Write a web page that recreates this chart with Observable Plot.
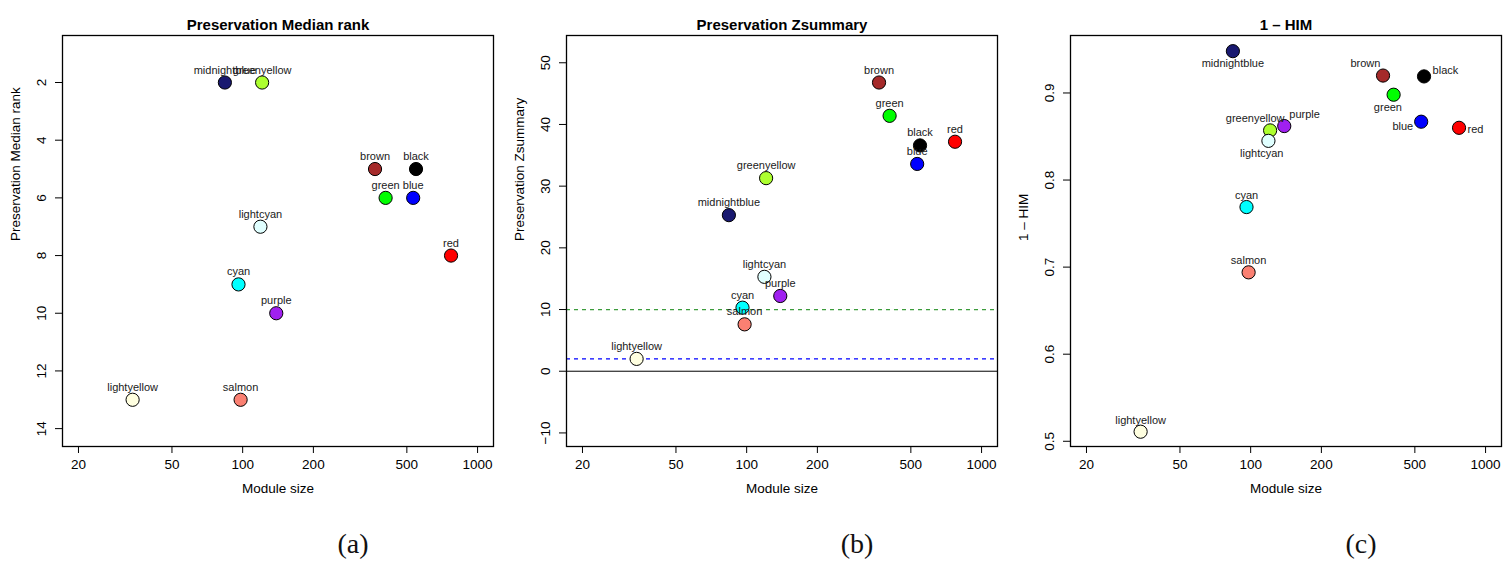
<!DOCTYPE html>
<html>
<head>
<meta charset="utf-8">
<script src="https://cdn.jsdelivr.net/npm/d3@7"></script>
<script src="https://cdn.jsdelivr.net/npm/@observablehq/plot@0.6"></script>
<style>
  html, body { margin: 0; padding: 0; background: #fff; }
  #wrap { display: flex; width: 1512px; height: 567px; }
  .panel { position: relative; width: 504px; height: 567px; }
  .panel svg { display: block; }
  .cap { position: absolute; left: 313px; width: 80px; top: 522px; text-align: center;
         font-family: "Liberation Serif", "DejaVu Serif", serif; font-size: 28px; line-height: 44px; color: #111; }
</style>
</head>
<body>
<div id="wrap"></div>
<script>
// ---- data ----
const modules = ["midnightblue","greenyellow","brown","black","green","blue","lightcyan","red","cyan","purple","lightyellow","salmon"];
const moduleColors = ["#191970","#ADFF2F","#A52A2A","#000000","#00FF00","#0000FF","#E0FFFF","#FF0000","#00FFFF","#A020F0","#FFFFE0","#FA8072"];
const moduleSize = [84, 121, 366, 547, 406, 532, 119, 771, 96, 139, 34, 98];
const medianRank = [2, 2, 5, 5, 6, 6, 7, 8, 9, 10, 13, 13];
const zsummary = [25.3, 31.3, 46.8, 36.6, 41.4, 33.6, 15.3, 37.2, 10.3, 12.2, 2.0, 7.6];
const oneMinusHIM = [0.948, 0.857, 0.920, 0.919, 0.898, 0.867, 0.845, 0.860, 0.769, 0.862, 0.511, 0.694];
const xTicks = [20, 50, 100, 200, 500, 1000];
const rankTicks = [2, 4, 6, 8, 10, 12, 14];
const zTicks = [-10, 0, 10, 20, 30, 40, 50];
const himTicks = [0.5, 0.6, 0.7, 0.8, 0.9];
const zThresholds = [0, 2, 10];

// label placement for panel (c) (relative offsets, layout only)
const himLabelOffset = {
  midnightblue: [0, 12.5], greenyellow: [-15, -11.7], brown: [-17.6, -11.7], black: [21.4, -6.4],
  green: [-5.7, 12.4], blue: [-18.4, 4.6], lightcyan: [-6.7, 12.3], red: [16.4, 2],
  cyan: [0, -12], purple: [20.3, -11.6], lightyellow: [0, -11.7], salmon: [0, -11.4]
};

const rows = modules.map((m, i) => ({
  name: m, color: moduleColors[i], size: moduleSize[i],
  rank: medianRank[i], z: zsummary[i], him: oneMinusHIM[i]
}));

const FONT = "'Liberation Sans', Arial, Helvetica, sans-serif";

function panel({title, ylabel, yKey, yDomain, yReverse, yTicks, yFormat, extra = [], labelOffsets = null, caption}) {
  const labelMarks = labelOffsets
    ? rows.map(r => Plot.text([r], {x: "size", y: yKey, text: "name", dx: labelOffsets[r.name][0], dy: labelOffsets[r.name][1], fontSize: 11, fill: "#1a1a1a"}))
    : [Plot.text(rows, {x: "size", y: yKey, text: "name", dy: -12.5, fontSize: 11, fill: "#1a1a1a"})];
  const chart = Plot.plot({
    width: 504, height: 510,
    marginTop: 35, marginBottom: 64, marginLeft: 62, marginRight: 11,
    style: {fontFamily: FONT, fontSize: "13.5px", color: "#000", background: "#fff"},
    x: {type: "log", domain: [17.1, 1169]},
    y: {domain: yDomain, reverse: yReverse},
    color: {type: "identity"},
    marks: [
      ...extra,
      Plot.frame({stroke: "#000", strokeWidth: 1.3}),
      Plot.axisX({ticks: xTicks, tickSize: 7, tickPadding: 6, tickFormat: d => String(d), label: null, fontSize: 13.5}),
      Plot.axisY({ticks: yTicks, tickSize: 7, text: null, label: null}),
      Plot.text(yTicks, {y: d => d, frameAnchor: "left", dx: -21, rotate: -90, text: yFormat, fontSize: 13.5, textAnchor: "middle", lineAnchor: "middle"}),
      Plot.dot(rows, {x: "size", y: yKey, r: 6.6, fill: "color", stroke: "#000", strokeWidth: 1}),
      ...labelMarks,
      Plot.text([title], {frameAnchor: "top", dy: -16, text: d => d, fontWeight: "bold", fontSize: 15}),
      Plot.text([ylabel], {frameAnchor: "left", dx: -47, rotate: -90, text: d => d, fontSize: 13.5}),
      Plot.text(["Module size"], {frameAnchor: "bottom", dy: 46, text: d => d, fontSize: 13.5})
    ]
  });
  const div = document.createElement("div");
  div.className = "panel";
  div.appendChild(chart);
  const cap = document.createElement("div");
  cap.className = "cap";
  cap.textContent = caption;
  div.appendChild(cap);
  document.getElementById("wrap").appendChild(div);
}

panel({
  title: "Preservation Median rank", ylabel: "Preservation Median rank",
  yKey: "rank", yDomain: [0.37, 14.62], yReverse: true, yTicks: rankTicks, yFormat: d => String(d),
  caption: "(a)"
});

panel({
  title: "Preservation Zsummary", ylabel: "Preservation Zsummary",
  yKey: "z", yDomain: [-12.2, 54.42], yReverse: false, yTicks: zTicks, yFormat: d => d < 0 ? "\u2212" + Math.abs(d) : String(d),
  extra: [
    Plot.ruleY([zThresholds[0]], {stroke: "#000", strokeWidth: 1}),
    Plot.ruleY([zThresholds[1]], {stroke: "#0000ff", strokeWidth: 1.2, strokeDasharray: "4,4"}),
    Plot.ruleY([zThresholds[2]], {stroke: "#3c9c3c", strokeWidth: 1.2, strokeDasharray: "4,4"})
  ],
  caption: "(b)"
});

panel({
  title: "1 \u2013 HIM", ylabel: "1 \u2013 HIM",
  yKey: "him", yDomain: [0.494, 0.966], yReverse: false, yTicks: himTicks, yFormat: d => d.toFixed(1),
  labelOffsets: himLabelOffset,
  caption: "(c)"
});
</script>
</body>
</html>
